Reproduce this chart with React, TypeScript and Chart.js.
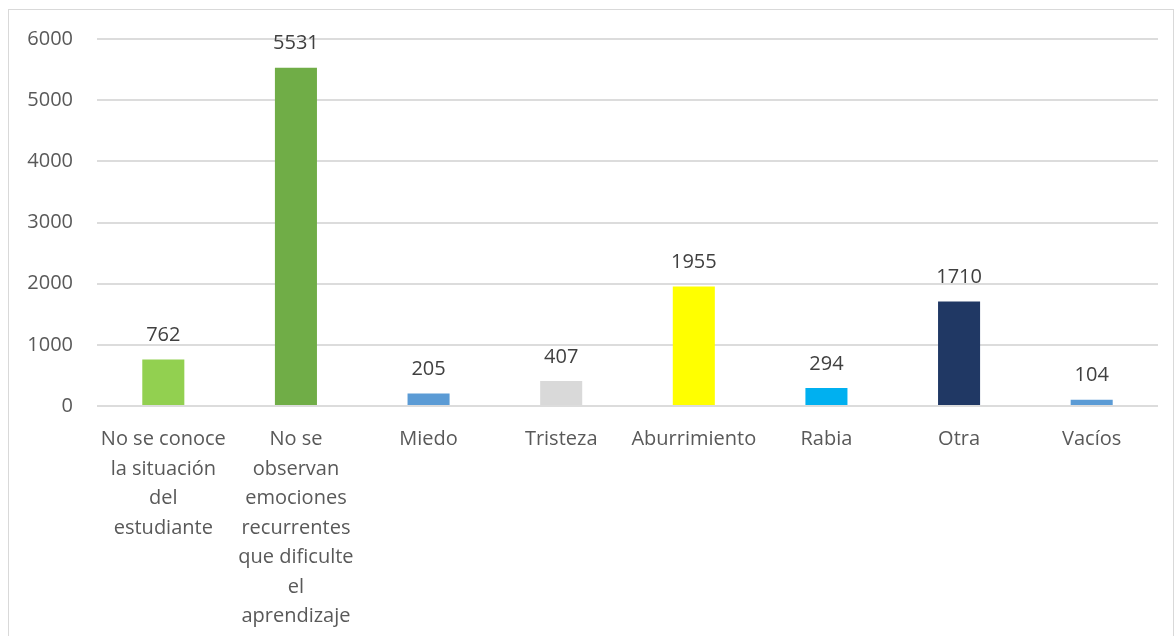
import React, { useEffect, useRef } from "react";
import { Chart, registerables } from "chart.js";

Chart.register(...registerables);

const categories: string[][] = [
  ["No se conoce", "la situación", "del", "estudiante"],
  ["No se", "observan", "emociones", "recurrentes", "que dificulte", "el", "aprendizaje"],
  ["Miedo"],
  ["Tristeza"],
  ["Aburrimiento"],
  ["Rabia"],
  ["Otra"],
  ["Vacíos"],
];
const values: number[] = [762, 5531, 205, 407, 1955, 294, 1710, 104];
const barColors: string[] = [
  "#92D050",
  "#70AD47",
  "#5B9BD5",
  "#D9D9D9",
  "#FFFF00",
  "#00B0F0",
  "#203864",
  "#5B9BD5",
];
const yTicks: number[] = [0, 1000, 2000, 3000, 4000, 5000, 6000];

const FONT = "'Open Sans', 'Noto Sans', sans-serif";

const valueLabels = {
  id: "valueLabels",
  afterDatasetsDraw(chart: any) {
    const ctx = chart.ctx;
    const meta = chart.getDatasetMeta(0);
    ctx.save();
    ctx.font = `20px ${FONT}`;
    ctx.fillStyle = "#404040";
    ctx.textAlign = "center";
    ctx.textBaseline = "middle";
    meta.data.forEach((bar: any, i: number) => {
      ctx.fillText(String(values[i]), bar.x, bar.y - 24);
    });
    ctx.restore();
  },
};

export default function App() {
  const ref = useRef<HTMLCanvasElement>(null);
  useEffect(() => {
    if (!ref.current) return;
    const chart = new Chart(ref.current, {
      type: "bar",
      data: {
        labels: categories as any,
        datasets: [
          {
            data: values,
            backgroundColor: barColors,
            borderWidth: 0,
            categoryPercentage: 1,
            barPercentage: 0.317,
          },
        ],
      },
      options: {
        animation: false,
        responsive: false,
        devicePixelRatio: 1,
        layout: { padding: { top: 29, right: 15, left: 0, bottom: 0 } },
        plugins: {
          legend: { display: false },
          tooltip: { enabled: false },
          title: { display: false },
        },
        scales: {
          x: {
            grid: { display: false, drawTicks: false },
            border: { display: false },
            ticks: {
              color: "#595959",
              font: { family: FONT, size: 20, lineHeight: 1.475 },
              padding: 19,
              maxRotation: 0,
              minRotation: 0,
              autoSkip: false,
            },
            afterFit(scale: any) {
              scale.height = 230;
              scale.paddingLeft = 0;
              scale.paddingRight = 0;
              scale.paddingTop = 0;
              scale.paddingBottom = 0;
            },
          },
          y: {
            min: 0,
            max: 6000,
            afterBuildTicks(scale: any) {
              scale.ticks = yTicks.map((v) => ({ value: v }));
            },
            grid: { color: "#dcdcdc", lineWidth: 2, drawTicks: false },
            border: { display: false },
            ticks: {
              color: "#595959",
              font: { family: FONT, size: 20 },
              padding: 24,
              callback: (v: any) => String(v),
            },
            afterFit(scale: any) {
              scale.width = 88;
              scale.paddingTop = 0;
              scale.paddingBottom = 0;
              scale.paddingLeft = 0;
              scale.paddingRight = 0;
            },
          },
        },
      },
      plugins: [valueLabels],
    });
    return () => chart.destroy();
  }, []);
  return (
    <div
      style={{
        position: "absolute",
        left: 8,
        top: 9,
        width: 1166,
        height: 627,
        boxSizing: "border-box",
        border: "1px solid #d9d9d9",
        borderBottom: "none",
        overflow: "hidden",
      }}
    >
      <canvas ref={ref} width={1164} height={626} style={{ display: "block" }} />
    </div>
  );
}
